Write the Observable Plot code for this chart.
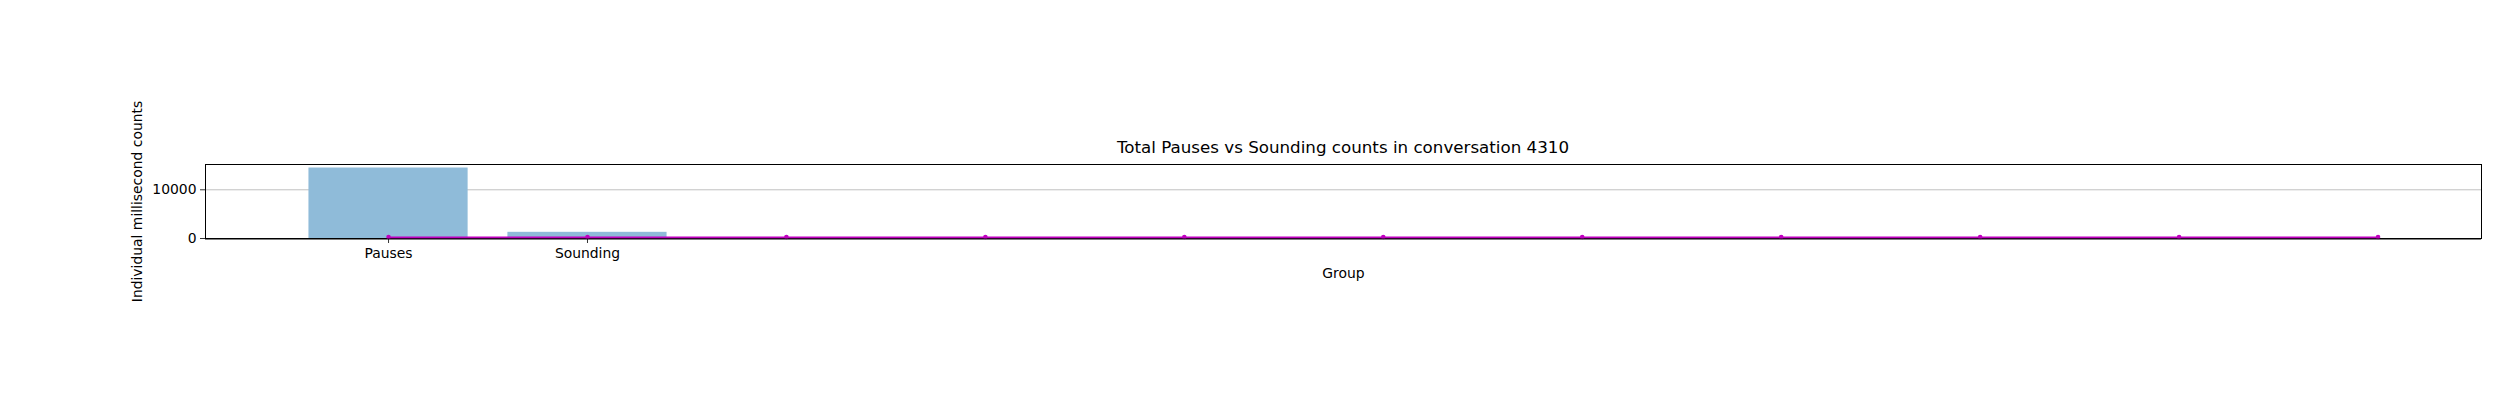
<!DOCTYPE html>
<html>
<head>
<meta charset="utf-8">
<script src="https://cdn.jsdelivr.net/npm/d3@7"></script>
<script src="https://cdn.jsdelivr.net/npm/@observablehq/plot@0.6"></script>
<style>
  html, body { margin: 0; padding: 0; background: #fff; }
  #wrap { position: relative; width: 2500px; height: 400px; font-family: "DejaVu Sans", sans-serif; }
  #title { position: absolute; left: 205px; width: 2276px; top: 137px; text-align: center;
           font-size: 16.7px; color: #000; line-height: 20px; white-space: nowrap; z-index: 2; }
  #chart { position: absolute; left: 0; top: 0; z-index: 1; }
</style>
</head>
<body>
<div id="wrap">
  <div id="chart"></div>
  <div id="title">Total Pauses vs Sounding counts in conversation 4310</div>
</div>
<script>
const titleText = "Total Pauses vs Sounding counts in conversation 4310";
const groups = ["Pauses", "Sounding"];
const groupCounts = [14470, 1270];
const linePositions = [0, 1, 2, 3, 4, 5, 6, 7, 8, 9, 10];
const lineValues = [0, 0, 0, 0, 0, 0, 0, 0, 0, 0, 0];
const yTicks = [0, 10000];
const yLabel = "Individual millisecond counts";
const xLabel = "Group";

const bars = groups.map((g, i) => ({group: g, pos: i, value: groupCounts[i]}));
const linePts = linePositions.map((p, i) => ({pos: p, value: lineValues[i]}));

const yMax = d3.max(groupCounts) * 1.05;

const chart = Plot.plot({
  width: 2500,
  height: 400,
  marginLeft: 205,
  marginRight: 19,
  marginTop: 164,
  marginBottom: 162,
  style: {fontFamily: "DejaVu Sans, sans-serif", fontSize: "13.9px", color: "#000", background: "transparent"},
  x: {type: "linear", domain: [-0.92, 10.52]},
  y: {domain: [0, yMax]},
  marks: [
    Plot.ruleY(yTicks, {stroke: "#b0b0b0", strokeWidth: 0.8}),
    Plot.rectY(bars, {x1: d => d.pos - 0.4, x2: d => d.pos + 0.4, y1: 0, y2: "value", fill: "#8fbbd9"}),
    Plot.axisX(bars.map(d => d.pos), {tickFormat: i => groups[i], tickSize: 5, tickPadding: 5, label: null, fontSize: 13.9, stroke: "#000", strokeWidth: 0.8}),
    Plot.axisY(yTicks, {tickFormat: d3.format("d"), tickSize: 5, tickPadding: 4, label: null, fontSize: 13.9, stroke: "#000", strokeWidth: 0.8}),
    Plot.frame({stroke: "#000", strokeWidth: 1}),
    Plot.line(linePts, {x: "pos", y: "value", stroke: "#bf00bf", strokeWidth: 1.8, dy: -1}),
    Plot.dot(linePts, {x: "pos", y: "value", fill: "#bf00bf", r: 2.3, dy: -1.5}),
    Plot.ruleY([0], {stroke: "#000", strokeWidth: 1, dy: 0.5}),
    Plot.text([yLabel], {frameAnchor: "left", dx: -68, rotate: -90, textAnchor: "middle", text: d => d, fontSize: 13.9, fill: "#000"}),
    Plot.text([xLabel], {frameAnchor: "bottom", dy: 35, textAnchor: "middle", text: d => d, fontSize: 13.9, fill: "#000", lineAnchor: "middle"})
  ]
});
document.getElementById("chart").appendChild(chart);
</script>
</body>
</html>
